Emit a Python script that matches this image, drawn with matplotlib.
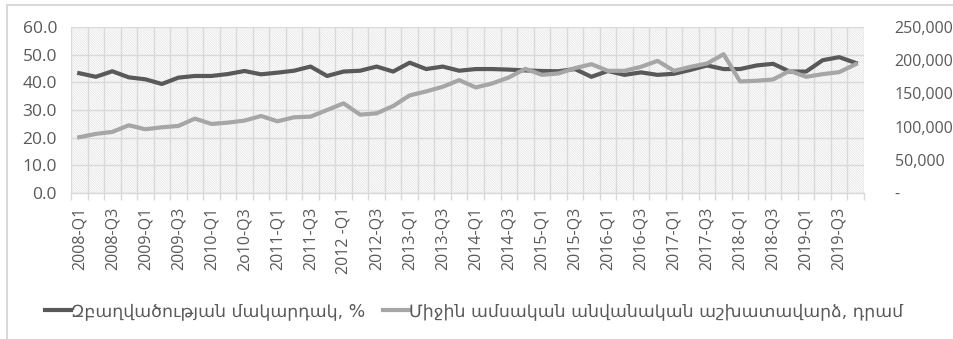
import matplotlib
matplotlib.use("Agg")
import matplotlib.pyplot as plt
from matplotlib.patches import Rectangle
from matplotlib.ticker import FixedLocator, FuncFormatter

# --- data -------------------------------------------------------------------

years = list(range(2008, 2020))
quarters = [f"{y}-Q{q}" for y in years for q in range(1, 5)]

# every second quarter is labelled; two labels are kept as they were typed
tick_labels = [
    "2008-Q1", "2008-Q3", "2009-Q1", "2009-Q3", "2010-Q1", "2o10-Q3",
    "2011-Q1", "2011-Q3", "2012 -Q1", "2012-Q3", "2013-Q1", "2013-Q3",
    "2014-Q1", "2014-Q3", "2015-Q1", "2015-Q3", "2016-Q1", "2016-Q3",
    "2017-Q1", "2017-Q3", "2018-Q1", "2018-Q3", "2019-Q1", "2019-Q3",
]

# employment rate, %
employment = [
    43.3, 42.0, 44.0, 41.8, 41.1, 39.4, 41.7, 42.3,
    42.3, 43.0, 44.1, 42.9, 43.5, 44.2, 45.7, 42.3,
    43.9, 44.2, 45.7, 43.9, 47.1, 44.8, 45.7, 44.2,
    44.8, 44.8, 44.6, 44.3, 44.1, 44.0, 44.8, 42.0,
    44.1, 42.7, 43.6, 42.7, 43.1, 44.5, 46.1, 44.8,
    44.8, 46.1, 46.7, 43.9, 43.9, 48.0, 49.1, 47.0,
]

# average monthly nominal wage, dram
wage = [
    84000, 89000, 92000, 102000, 96000, 99000, 101000, 112000,
    104000, 106000, 109000, 116000, 108000, 114000, 115000, 125000,
    135000, 118000, 120000, 131000, 147000, 153000, 160000, 170000,
    159000, 165000, 174000, 187000, 178000, 180000, 188000, 194000,
    184000, 184000, 190000, 199000, 184000, 190000, 195000, 209000,
    168000, 169000, 171000, 184000, 175000, 179000, 182000, 194000,
]

label_employment = "Զբաղվածության մակարդակ, %"
label_wage = "Միջին ամսական անվանական աշխատավարձ, դրամ"

DARK = "#595959"
LIGHT = "#A6A6A6"
GRID = "#D9D9D9"
TEXT = "#595959"

plt.rcParams["font.family"] = ["Open Sans", "DejaVu Sans"]
plt.rcParams["hatch.linewidth"] = 0.5
plt.rcParams["hatch.color"] = "#E2E2E2"

# --- figure -----------------------------------------------------------------

fig = plt.figure(figsize=(9.54, 3.39), dpi=100)
fig.patch.set_facecolor("white")

# thin outer frame, open to the right and bottom
fig.add_artist(Rectangle((7 / 954, -0.1), 1.2, 1 - 5 / 339 + 0.1,
                         transform=fig.transFigure, fill=False,
                         edgecolor="#D9D9D9", linewidth=1.5))

ax = fig.add_axes([71 / 954, 1 - 193 / 339, (864 - 71) / 954, (193 - 27) / 339])
ax.set_facecolor("white")

# fine diagonal pattern fill of the plot area
ax.add_patch(Rectangle((0, 0), 1, 1, transform=ax.transAxes, facecolor="white",
                       edgecolor="#E2E2E2", hatch="\\" * 14, linewidth=0, zorder=0))

n = len(quarters)
x = list(range(n))

ax.plot(x, employment, color=DARK, linewidth=3, solid_joinstyle="round",
        label=label_employment, zorder=3)
ax.set_xlim(-0.5, n - 0.5)
ax.set_ylim(0, 60)
ax.set_yticks(range(0, 61, 10))
ax.yaxis.set_major_formatter(FuncFormatter(lambda v, _: f"{v:.1f}"))

ax.xaxis.set_major_locator(FixedLocator(x[::2]))
ax.set_xticklabels(tick_labels, rotation=90)
ax.xaxis.set_minor_locator(FixedLocator([i - 0.5 for i in range(n + 1)]))
ax.tick_params(axis="x", which="major", length=0, pad=10, labelsize=11.5, labelcolor=TEXT)
ax.tick_params(axis="x", which="minor", length=5, color=GRID, width=1)
ax.tick_params(axis="y", length=0, pad=10, labelsize=12.5, labelcolor=TEXT)

ax.grid(axis="y", which="major", color=GRID, linewidth=1)
ax.grid(axis="x", which="minor", color=GRID, linewidth=1)
ax.set_axisbelow(True)
for side in ["top", "left", "right"]:
    ax.spines[side].set_visible(False)
ax.spines["bottom"].set_color(GRID)
ax.spines["bottom"].set_linewidth(1)

ax2 = ax.twinx()
ax2.plot(x, wage, color=LIGHT, linewidth=3, solid_joinstyle="round",
         label=label_wage, zorder=3)
ax2.set_ylim(0, 250000)
ax2.set_yticks(range(0, 250001, 50000))
ax2.yaxis.set_major_formatter(
    FuncFormatter(lambda v, _: "-" if v == 0 else f"{v:,.0f}"))
ax2.tick_params(axis="y", length=0, pad=22, labelsize=11.5, labelcolor=TEXT)
for side in ["top", "left", "right", "bottom"]:
    ax2.spines[side].set_visible(False)

handles = ax.get_lines()[:1] + ax2.get_lines()[:1]
fig.legend(handles, [label_employment, label_wage], loc="center",
           bbox_to_anchor=(0.497, 1 - 311 / 339), ncol=2, frameon=False,
           handlelength=1.5, handletextpad=0.0, columnspacing=1.0,
           prop={"family": ["DejaVu Sans"], "size": 12.5}, labelcolor=TEXT)

fig.savefig("out.png", dpi=100, facecolor="white")
